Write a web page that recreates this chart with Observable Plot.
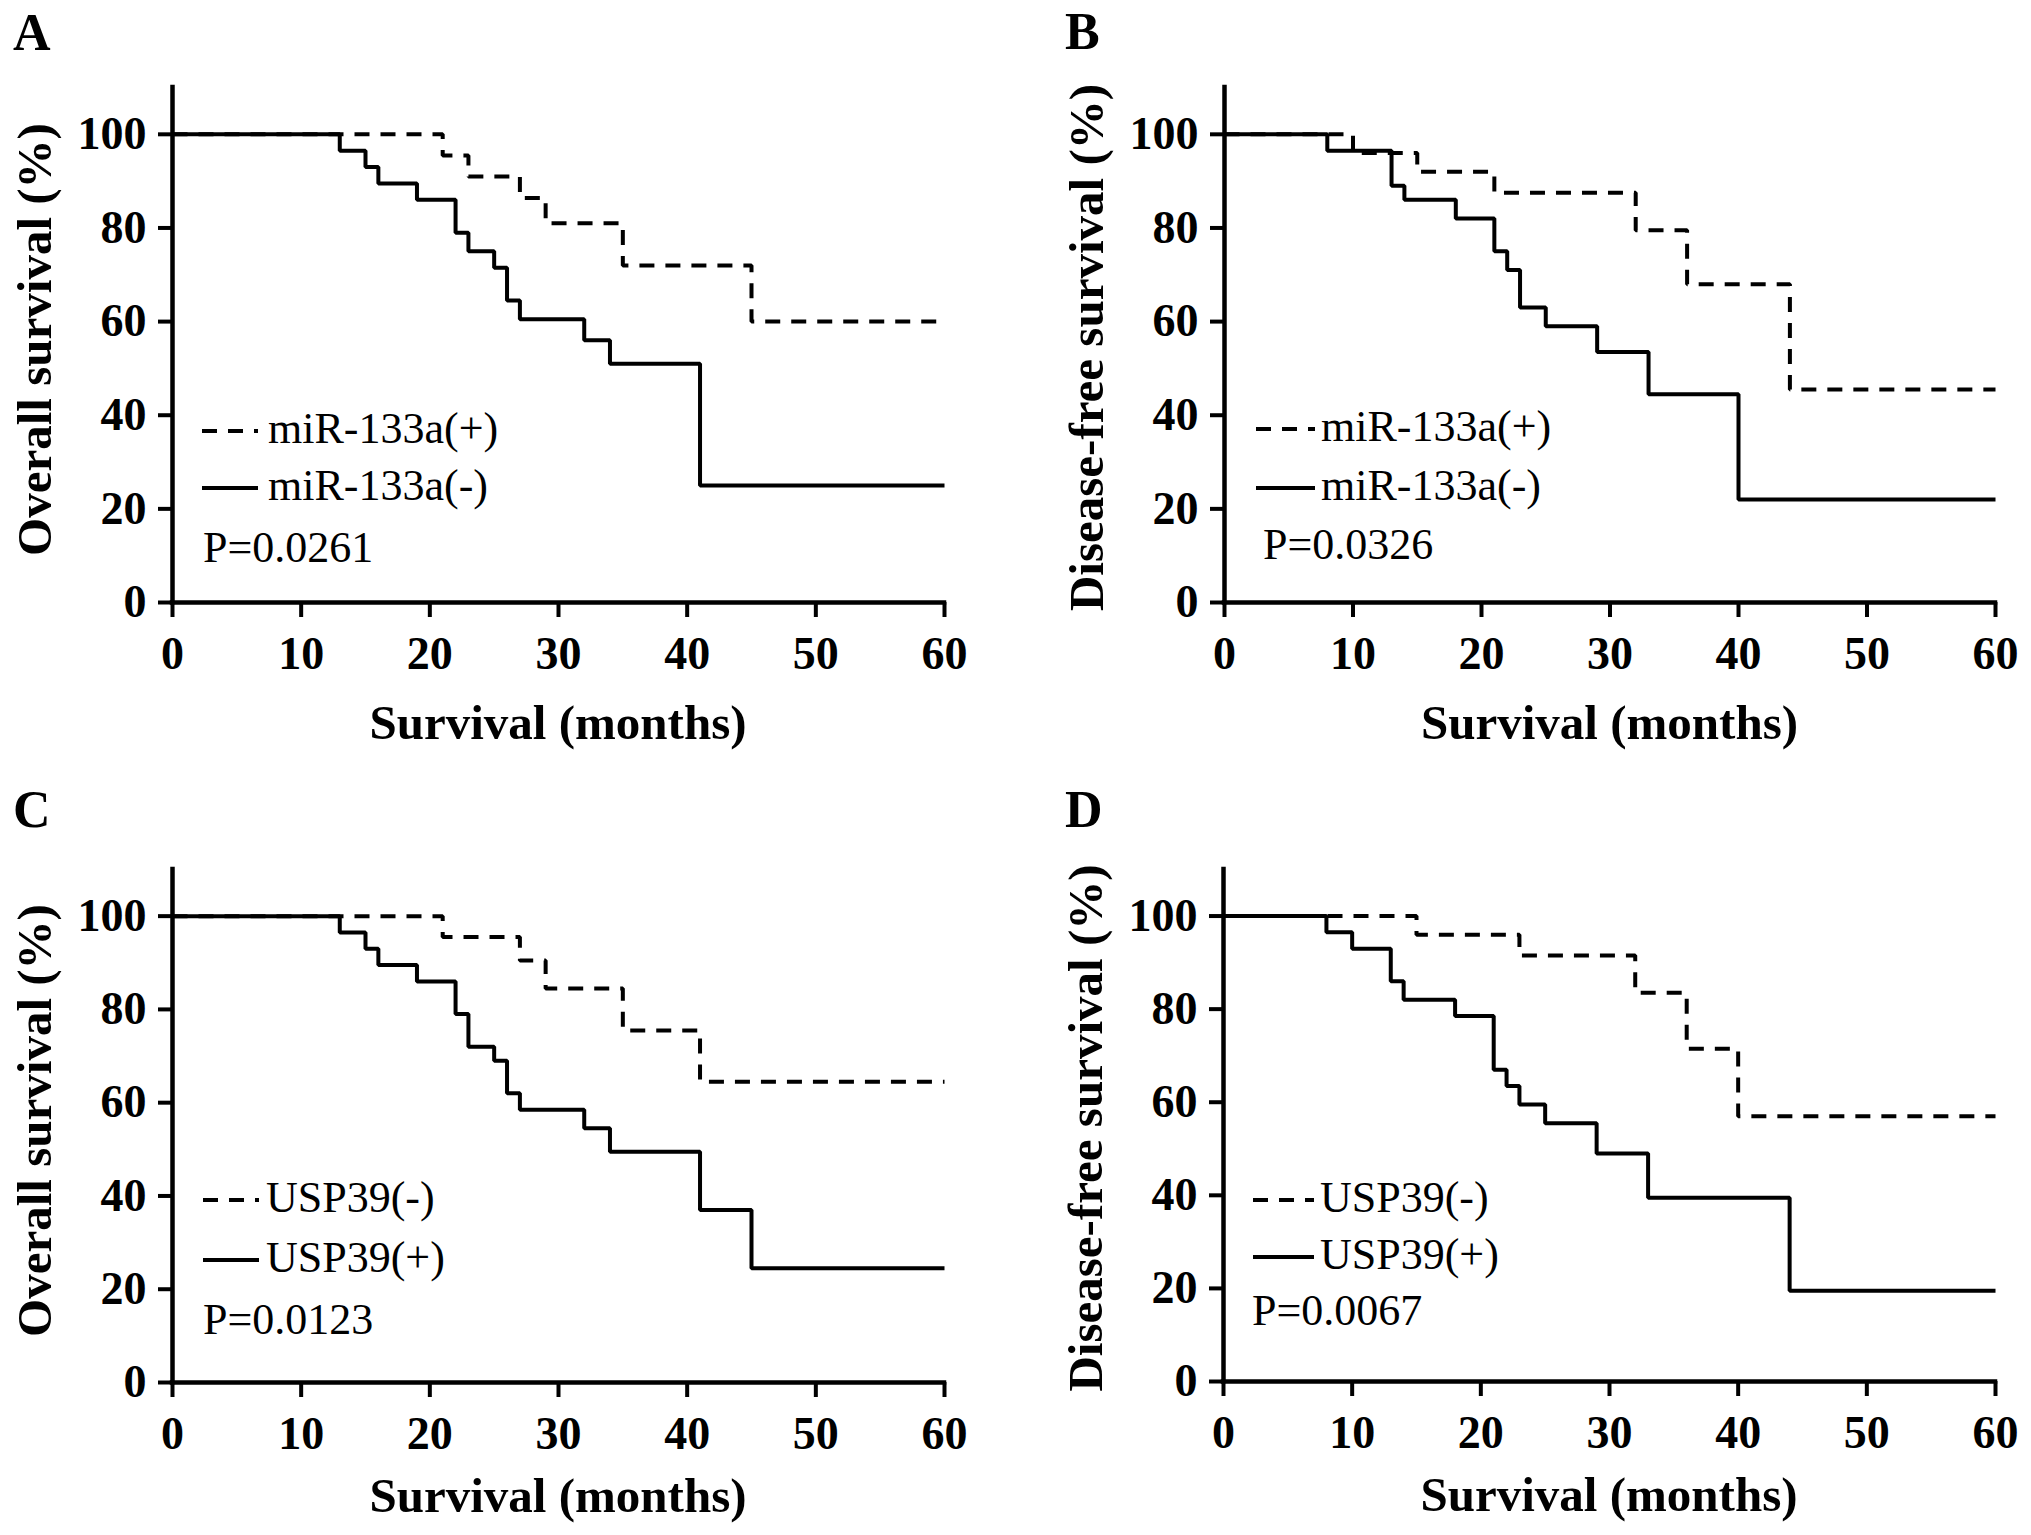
<!DOCTYPE html>
<html><head><meta charset="utf-8">
<script src="https://cdn.jsdelivr.net/npm/d3@7"></script>
<script src="https://cdn.jsdelivr.net/npm/@observablehq/plot@0.6"></script>
<style>
body{margin:0;background:#fff;}
#wrap{position:relative;width:2031px;height:1535px;background:#fff;}
.panel{position:absolute;}
</style></head><body><div id="wrap"></div>
<script>
const FONT = '"Liberation Serif","Times New Roman",serif';

// ---- data ----
const xTicks = [0, 10, 20, 30, 40, 50, 60];
const yTicks = [0, 20, 40, 60, 80, 100];
const panelLetters = ["A", "B", "C", "D"];
const yLabels = ["Overall survival (%)", "Disease-free survival (%)", "Overall survival (%)", "Disease-free survival (%)"];
const xLabel = "Survival (months)";
const dashedNames = ["miR-133a(+)", "miR-133a(+)", "USP39(-)", "USP39(-)"];
const solidNames = ["miR-133a(-)", "miR-133a(-)", "USP39(+)", "USP39(+)"];
const pValues = ["P=0.0261", "P=0.0326", "P=0.0123", "P=0.0067"];

// Panel A
const aDashT = [0, 21, 23, 27, 29, 35, 45, 60];
const aDashS = [100, 95.5, 91, 86.4, 81, 72, 60, 60];
const aSolidT = [0, 13, 15, 16, 19, 22, 23, 25, 26, 27, 32, 34, 41, 60];
const aSolidS = [100, 96.5, 93, 89.5, 86, 79, 75, 71.5, 64.5, 60.5, 56, 51, 25, 25];
// Panel B
const bDashT = [0, 10, 15, 21, 32, 36, 44, 60];
const bDashS = [100, 96, 92, 87.5, 79.5, 68, 45.5, 45.5];
const bSolidT = [0, 8, 13, 14, 18, 21, 22, 23, 25, 29, 33, 40, 60];
const bSolidS = [100, 96.5, 89, 86, 82, 75, 71, 63, 59, 53.5, 44.5, 22, 22];
// Panel C
const cDashT = [0, 21, 27, 29, 35, 41, 60];
const cDashS = [100, 95.5, 90.5, 84.5, 75.5, 64.5, 64.5];
const cSolidT = [0, 13, 15, 16, 19, 22, 23, 25, 26, 27, 32, 34, 41, 45, 60];
const cSolidS = [100, 96.5, 93, 89.5, 86, 79, 72, 69, 62, 58.5, 54.5, 49.5, 37, 24.5, 24.5];
// Panel D
const dDashT = [0, 15, 23, 32, 36, 40, 60];
const dDashS = [100, 96, 91.5, 83.5, 71.5, 57, 57];
const dSolidT = [0, 8, 10, 13, 14, 18, 21, 22, 23, 25, 29, 33, 44, 60];
const dSolidS = [100, 96.5, 93, 86, 82, 78.5, 67, 63.5, 59.5, 55.5, 49, 39.5, 19.5, 19.5];

const dashT = [aDashT, bDashT, cDashT, dDashT];
const dashS = [aDashS, bDashS, cDashS, dDashS];
const solidT = [aSolidT, bSolidT, cSolidT, dSolidT];
const solidS = [aSolidS, bSolidS, cSolidS, dSolidS];

// ---- layout ----
const layout = [
  {left: 0,    top: 0,   w: 1015, h: 767, ml: 172, mr: 71, mt: 87,  mb: 165, letter: [13, 50], ylDy: -5, xlDy: 137,
   leg: {s0: 30, s1: 86, tx: 96, b1: 159, b2: 102, pb: 40, px: 31}},
  {left: 1015, top: 0,   w: 1016, h: 767, ml: 209, mr: 36, mt: 87,  mb: 165, letter: [50, 49], ylDy: 3, xlDy: 137,
   leg: {s0: 32, s1: 91, tx: 97, b1: 161, b2: 102, pb: 43, px: 39}},
  {left: 0,    top: 767, w: 1015, h: 768, ml: 172, mr: 71, mt: 102, mb: 153, letter: [13, 60], ylDy: -5, xlDy: 130,
   leg: {s0: 31, s1: 87, tx: 94, b1: 170, b2: 110, pb: 48, px: 31}},
  {left: 1015, top: 767, w: 1016, h: 768, ml: 208, mr: 36, mt: 102, mb: 154, letter: [50, 60], ylDy: 3, xlDy: 130,
   leg: {s0: 30, s1: 91, tx: 97, b1: 169, b2: 112, pb: 56, px: 29}}
];

const wrap = document.getElementById("wrap");
const DASH = "15,11";

layout.forEach((L, i) => {
  const dashData = dashT[i].map((t, k) => ({t, s: dashS[i][k]}));
  const solidData = solidT[i].map((t, k) => ({t, s: solidS[i][k]}));
  const plot = Plot.plot({
    width: L.w, height: L.h,
    marginLeft: L.ml, marginRight: L.mr, marginTop: L.mt, marginBottom: L.mb,
    x: {domain: [0, 60]},
    y: {domain: [0, 110]},
    style: {fontFamily: FONT, background: "transparent", color: "black", overflow: "visible"},
    marks: [
      Plot.axisX({ticks: xTicks, tickSize: 15, tickPadding: 19, strokeWidth: 4, fontSize: 46, fontWeight: "bold", label: null, tickFormat: d => String(d), fill: "black"}),
      Plot.axisY({ticks: yTicks, tickSize: 14, tickPadding: 12, strokeWidth: 4, fontSize: 46, fontWeight: "bold", label: null, tickFormat: d => String(d), fill: "black"}),
      Plot.ruleX([0], {y1: 0, y2: 110, strokeWidth: 4.5, strokeLinecap: "square"}),
      Plot.ruleY([0], {x1: 0, x2: 60, strokeWidth: 4.5, strokeLinecap: "square"}),
      Plot.line(dashData, {x: "t", y: "s", curve: "step-after", strokeWidth: 4, strokeDasharray: DASH, strokeLinecap: "butt", strokeLinejoin: "miter"}),
      Plot.line(solidData, {x: "t", y: "s", curve: "step-after", strokeWidth: 4, strokeLinecap: "butt", strokeLinejoin: "miter"})
    ]
  });
  plot.classList.add("panel");
  plot.style.left = L.left + "px";
  plot.style.top = L.top + "px";
  wrap.appendChild(plot);

  const svg = d3.select(plot);
  const ox = L.ml, oy = L.h - L.mb;
  const fx = (L.ml + L.w - L.mr) / 2, fy = (L.mt + oy) / 2;
  const g = svg.append("g").attr("font-family", FONT).attr("fill", "black").attr("text-anchor", "start");

  // panel letter
  g.append("text").attr("x", L.letter[0]).attr("y", L.letter[1]).attr("text-anchor", "start")
    .attr("font-size", 52).attr("font-weight", "bold").text(panelLetters[i]);
  // y label
  g.append("text")
    .attr("transform", `translate(${ox - 138},${fy + L.ylDy}) rotate(-90)`)
    .attr("text-anchor", "middle").attr("dominant-baseline", "central")
    .attr("font-size", 49).attr("font-weight", "bold").text(yLabels[i]);
  // x label
  g.append("text").attr("x", fx).attr("y", oy + L.xlDy)
    .attr("text-anchor", "middle").attr("font-size", 49).attr("font-weight", "bold").text(xLabel);

  // legend
  const lg = L.leg;
  g.append("line").attr("x1", ox + lg.s0).attr("x2", ox + lg.s1)
    .attr("y1", oy - lg.b1 - 12).attr("y2", oy - lg.b1 - 12)
    .attr("stroke", "black").attr("stroke-width", 4).attr("stroke-dasharray", DASH);
  g.append("text").attr("x", ox + lg.tx).attr("y", oy - lg.b1).attr("text-anchor", "start").attr("font-size", 44).text(dashedNames[i]);
  g.append("line").attr("x1", ox + lg.s0).attr("x2", ox + lg.s1)
    .attr("y1", oy - lg.b2 - 12).attr("y2", oy - lg.b2 - 12)
    .attr("stroke", "black").attr("stroke-width", 4);
  g.append("text").attr("x", ox + lg.tx).attr("y", oy - lg.b2).attr("text-anchor", "start").attr("font-size", 44).text(solidNames[i]);
  g.append("text").attr("x", ox + lg.px).attr("y", oy - lg.pb).attr("text-anchor", "start").attr("font-size", 44).text(pValues[i]);
});
</script>
</body></html>
